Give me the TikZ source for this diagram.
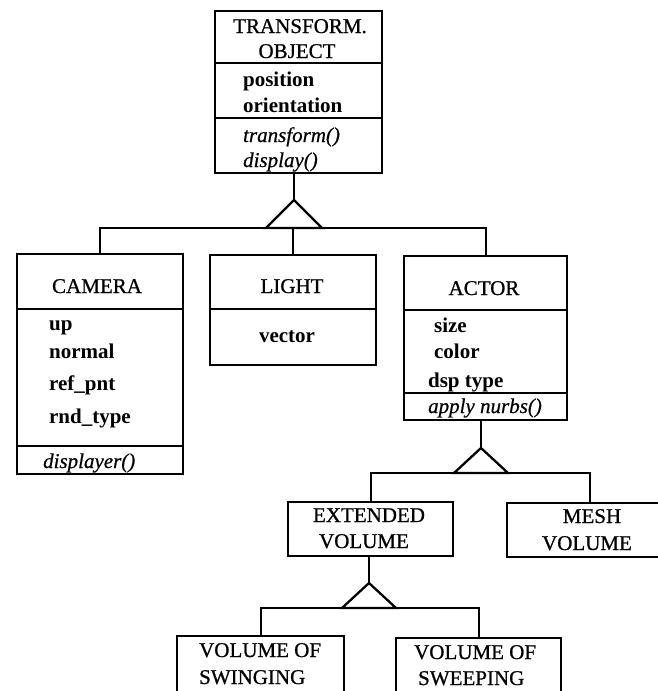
\documentclass[tikz,border=0pt]{standalone}
\usepackage{fontspec}
\setmainfont{Liberation Serif}
% slightly heavier faces for class names and operations
\newfontfamily\namefont[FakeBold=0.8]{Liberation Serif}
\newfontfamily\opfont[FakeBold=0.6,UprightFont=*,ItalicFont=* Italic]{Liberation Serif}
\begin{document}
\begin{tikzpicture}[x=1pt,y=-1pt,line width=2.3pt,
  box/.style={draw,rectangle,inner sep=0pt,anchor=north west},
  ttl/.style={inner sep=0pt,anchor=base,font=\fontsize{21}{24}\namefont},
  attr/.style={inner sep=0pt,anchor=base west,font=\fontsize{21}{24}\selectfont\bfseries},
  meth/.style={inner sep=0pt,anchor=base west,font=\fontsize{21}{24}\opfont\itshape},
  attrc/.style={attr,anchor=base}]
\useasboundingbox (0,0) rectangle (658,691);
\clip (0,0) rectangle (658,691);

% class boxes
\node[box,minimum width=167pt,minimum height=162pt] (tobj) at (214,10) {};
\node[box,minimum width=166pt,minimum height=220pt] (camera) at (16,253) {};
\node[box,minimum width=166pt,minimum height=110pt] (light) at (209,254) {};
\node[box,minimum width=163pt,minimum height=164pt] (actor) at (403,255) {};
\node[box,minimum width=165pt,minimum height=54pt] (ext) at (287,501) {};
\node[box,minimum width=166pt,minimum height=54pt] (mesh) at (506,502) {};
\node[box,minimum width=167pt,minimum height=70pt] (swing) at (176,635) {};
\node[box,minimum width=165pt,minimum height=70pt] (sweep) at (395,637) {};

% compartment dividers
\draw (tobj.west |- 0,63) -- (tobj.east |- 0,63);
\draw (tobj.west |- 0,118) -- (tobj.east |- 0,118);
\draw (camera.west |- 0,309) -- (camera.east |- 0,309);
\draw (camera.west |- 0,446) -- (camera.east |- 0,446);
\draw (light.west |- 0,309) -- (light.east |- 0,309);
\draw (actor.west |- 0,310) -- (actor.east |- 0,310);
\draw (actor.west |- 0,393) -- (actor.east |- 0,393);

% TRANSFORM. OBJECT
\node[ttl] (tobjA) at (300,33) {TRANSFORM.};
\node[ttl] (tobjB) at (297,58) {OBJECT};
\node[attr] (tpos) at (242,86) {position};
\node[attr] (tori) at (242,112) {orientation};
\node[meth] (ttra) at (242,142) {transform()};
\node[meth] (tdis) at (242,167) {display()};

% CAMERA
\node[ttl] (camT) at (97,293) {CAMERA};
\node[attr] (cup) at (48,330) {up};
\node[attr] (cnor) at (48,358) {normal};
\node[attr] (cref) at (48,390) {ref\_pnt};
\node[attr] (crnd) at (48,423) {rnd\_type};
\node[meth] (cdis) at (42,468) {displayer()};

% LIGHT
\node[ttl] (ligT) at (292,293) {LIGHT};
\node[attrc] (lvec) at (287,342) {vector};

% ACTOR
\node[ttl] (actT) at (484,295) {ACTOR};
\node[attr] (asiz) at (433,332) {size};
\node[attr] (acol) at (433,358) {color};
\node[attr] (adsp) at (427,387) {dsp type};
\node[meth] (aapp) at (427,413) {apply nurbs()};

% volume classes
\node[ttl] (extA) at (369,522) {EXTENDED};
\node[ttl] (extB) at (364,548) {VOLUME};
\node[ttl] (mshA) at (592,523) {MESH};
\node[ttl] (mshB) at (587,550) {VOLUME};
\node[ttl,anchor=base west] (swA) at (198,657) {VOLUME OF};
\node[ttl,anchor=base west] (swB) at (198,684) {SWINGING};
\node[ttl,anchor=base west] (spA) at (413,659) {VOLUME OF};
\node[ttl,anchor=base west] (spB) at (417,685) {SWEEPING};

% generalisation: TRANSFORM. OBJECT
\coordinate (apx1) at (294,200);
\coordinate (bar1) at (0,228);
\draw (tobj.south -| apx1) -- (apx1);
\draw[line join=miter] (apx1) -- ++(-28,28) -- ++(56,0) -- cycle;
\draw (camera.north) -- (camera.north |- bar1) -- (actor.north |- bar1) -- (actor.north);
\draw (light.north) -- (light.north |- bar1);

% generalisation: ACTOR
\coordinate (apx2) at (481,448);
\coordinate (bar2) at (0,473);
\draw (actor.south -| apx2) -- (apx2);
\draw[line join=miter] (apx2) -- ++(-27,25) -- ++(54,0) -- cycle;
\draw (ext.north) -- (ext.north |- bar2) -- (mesh.north |- bar2) -- (mesh.north);

% generalisation: EXTENDED VOLUME
\coordinate (apx3) at (369,583);
\coordinate (bar3) at (0,608);
\draw (ext.south -| apx3) -- (apx3);
\draw[line join=miter] (apx3) -- ++(-27,25) -- ++(54,0) -- cycle;
\draw (swing.north) -- (swing.north |- bar3) -- (sweep.north |- bar3) -- (sweep.north);
\end{tikzpicture}
\end{document}
